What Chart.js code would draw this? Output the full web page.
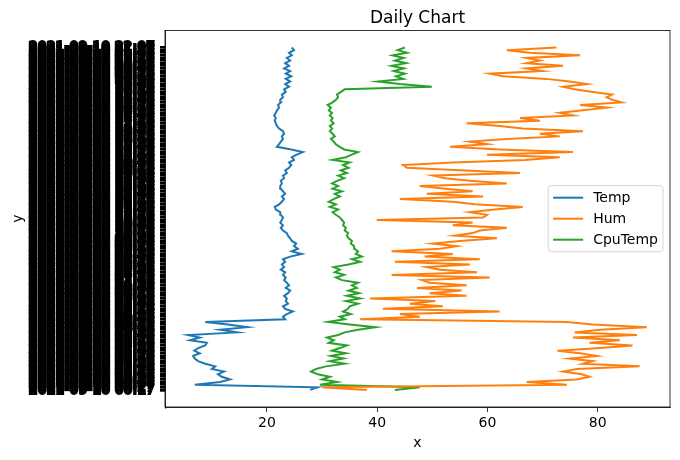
<!DOCTYPE html>
<html>
<head>
<meta charset="utf-8">
<script src="https://cdn.jsdelivr.net/npm/chart.js@4.4.0/dist/chart.umd.min.js"></script>
<style>
  body { margin: 0; background: #fff; }
  #wrap { width: 680px; height: 460px; }
</style>
</head>
<body>
<div id="wrap"><canvas id="dailyChart" width="680" height="460"></canvas></div>
<script>
// readings, oldest first (bottom of the chart)
const temp = [
  27.8, 29.2, 6.9, 11.5, 13.3, 11.8, 11.1, 12.2, 10.0, 10.6,
  8.8, 7.5, 6.9, 6.6, 7.8, 6.8, 7.5, 8.8, 9.1, 6.0,
  7.8, 5.7, 14.6, 11.5, 16.4, 12.9, 8.8, 23.3, 22.9, 23.6,
  24.7, 23.3, 22.9, 23.8, 23.4, 23.6, 23.1, 23.8, 24.2, 23.4,
  24.0, 23.6, 23.1, 23.4, 22.9, 23.3, 22.5, 23.1, 22.7, 23.3,
  22.9, 24.2, 26.3, 24.5, 25.6, 24.9, 25.3, 24.5, 24.2, 23.8,
  23.6, 22.9, 22.5, 22.9, 22.4, 22.7, 22.9, 22.5, 22.4, 21.6,
  21.4, 22.2, 22.7, 23.1, 22.7, 23.3, 22.9, 22.5, 22.4, 22.7,
  22.5, 23.1, 22.9, 23.6, 23.3, 24.0, 24.4, 24.0, 24.9, 24.5,
  25.4, 26.5, 24.4, 21.8, 22.2, 22.5, 22.9, 22.7, 23.1, 22.9,
  22.2, 21.8, 21.6, 21.4, 21.6, 21.3, 21.6, 21.8, 22.2, 22.0,
  22.5, 22.4, 22.9, 22.7, 23.4, 23.1, 24.0, 23.3, 24.2, 23.4,
  24.4, 23.4, 24.2, 23.1, 24.0, 23.3, 24.2, 23.6, 24.5, 24.0, 24.9, 24.5
];
const hum = [
  38.1, 30.0, 74.4, 67.1, 76.2, 78.5, 77.1, 73.7, 76.2, 87.6,
  77.3, 79.1, 74.9, 79.8, 76.8, 72.7, 80.4, 86.3, 78.5, 84.0,
  75.5, 87.1, 75.8, 80.4, 88.9, 79.1, 74.4, 36.9, 47.7, 44.1,
  62.2, 41.0, 51.9, 45.9, 50.5, 38.7, 56.2, 49.5, 55.3, 47.2,
  56.2, 49.5, 48.1, 60.4, 42.6, 58.1, 51.4, 49.0, 56.8, 43.2,
  58.6, 48.6, 53.7, 42.6, 51.4, 54.4, 50.1, 55.0, 61.7, 54.1,
  57.3, 58.6, 63.5, 53.7, 57.3, 39.9, 59.2, 59.9, 56.8, 61.3,
  66.4, 57.7, 53.7, 44.1, 59.2, 49.0, 57.3, 52.3, 47.7, 63.5,
  56.8, 52.3, 50.1, 65.9, 55.0, 45.4, 44.7, 53.7, 66.8, 73.1,
  59.9, 75.5, 62.2, 53.2, 59.9, 56.8, 63.5, 73.1, 69.5, 77.3,
  66.4, 62.2, 56.2, 69.5, 65.9, 75.5, 73.1, 77.3, 81.6, 76.8,
  84.3, 82.6, 81.6, 82.6, 79.1, 75.8, 73.7, 78.0, 74.9, 70.7,
  62.8, 60.4, 70.0, 67.1, 73.7, 67.1, 69.5, 67.1, 76.8, 67.7, 63.5, 72.5
];
const cpuTemp = [
  43.2, 47.7, 29.6, 32.7, 30.0, 31.4, 29.2, 28.0, 28.9, 30.7,
  34.1, 31.4, 33.9, 31.6, 34.3, 31.8, 33.2, 34.5, 31.2, 32.1,
  30.9, 32.9, 34.1, 36.5, 39.7, 35.0, 31.1, 34.1, 33.2, 35.2,
  33.8, 34.7, 35.0, 36.5, 34.3, 36.9, 34.5, 36.7, 34.8, 36.3,
  35.4, 36.5, 33.6, 32.5, 34.0, 32.3, 33.2, 32.1, 34.8, 36.9,
  35.4, 37.2, 36.1, 36.5, 35.9, 35.8, 35.2, 35.4, 34.8, 34.5,
  34.7, 34.1, 34.3, 33.8, 34.0, 33.6, 33.2, 32.5, 31.9, 32.9,
  31.4, 32.5, 31.2, 32.1, 33.2, 32.3, 33.6, 31.9, 32.9, 31.8,
  32.7, 34.0, 32.9, 34.5, 33.4, 34.8, 33.8, 35.0, 31.9, 34.3,
  35.4, 36.5, 34.0, 33.2, 32.5, 32.1, 31.6, 32.3, 31.9, 31.4,
  31.8, 31.4, 32.1, 31.6, 31.9, 31.4, 31.8, 31.2, 31.6, 31.0,
  31.9, 32.5, 32.9, 32.7, 33.4, 34.1, 49.9, 44.1, 40.1, 44.7,
  43.4, 45.0, 43.0, 44.8, 42.6, 45.2, 43.2, 44.8, 42.8, 45.4, 43.7, 45.0
];
const xTicks = [20, 40, 60, 80];

// one timestamp per reading, every 10 minutes
const times = [];
const start = new Date(2021, 8, 10, 0, 17);
const pad = (n) => String(n).padStart(2, '0');
for (let i = 0; i < temp.length; i++) {
  const d = new Date(start.getTime() + i * 600000);
  times.push(d.getFullYear() + '-' + pad(d.getMonth() + 1) + '-' + pad(d.getDate()) + ' ' + pad(d.getHours()) + ':' + pad(d.getMinutes()));
}

const toPoints = (arr) => arr.map((v, i) => ({ x: v, y: i }));
const margin = (times.length - 1) * 0.05;

Chart.defaults.font.family = 'DejaVu Sans';
Chart.defaults.color = '#000';

// box around the plot, like the mpl spines
const frame = {
  id: 'frame',
  afterDatasetsDraw(chart) {
    const { ctx, chartArea: a } = chart;
    ctx.save();
    ctx.strokeStyle = '#000';
    ctx.lineWidth = 0.8;
    ctx.strokeRect(a.left, a.top, a.right - a.left, a.bottom - a.top);
    ctx.restore();
  }
};

// legend inside the plot, centre right
const innerLegend = {
  id: 'innerLegend',
  afterDraw(chart) {
    const { ctx, chartArea: a } = chart;
    const sets = chart.data.datasets;
    ctx.save();
    ctx.font = '14px "DejaVu Sans"';
    let textW = 0;
    sets.forEach(s => { textW = Math.max(textW, ctx.measureText(s.label).width); });
    const w = 45 + textW + 5, h = 66, row = 21;
    const right = a.right - 7;
    const left = right - w;
    const cy = (a.top + a.bottom) / 2;
    const top = cy - h / 2;
    ctx.beginPath();
    ctx.roundRect(left, top, w, h, 3);
    ctx.fillStyle = 'rgba(255,255,255,0.8)';
    ctx.fill();
    ctx.strokeStyle = '#d6d6d6';
    ctx.lineWidth = 1;
    ctx.stroke();
    sets.forEach((s, i) => {
      const y = cy + (i - 1) * row;
      ctx.strokeStyle = s.borderColor;
      ctx.lineWidth = 2;
      ctx.beginPath();
      ctx.moveTo(left + 5, y);
      ctx.lineTo(left + 35, y);
      ctx.stroke();
      ctx.fillStyle = '#000';
      ctx.textBaseline = 'middle';
      ctx.fillText(s.label, left + 45, y + 1);
    });
    ctx.restore();
  }
};

new Chart(document.getElementById('dailyChart'), {
  type: 'line',
  data: {
    datasets: [
      { label: 'Temp', data: toPoints(temp), borderColor: '#1f77b4', backgroundColor: '#1f77b4' },
      { label: 'Hum', data: toPoints(hum), borderColor: '#ff7f0e', backgroundColor: '#ff7f0e' },
      { label: 'CpuTemp', data: toPoints(cpuTemp), borderColor: '#2ca02c', backgroundColor: '#2ca02c' }
    ]
  },
  options: {
    responsive: false,
    animation: false,
    indexAxis: 'y',
    layout: { padding: { left: 0, right: 10, top: 0, bottom: 0 } },
    elements: {
      line: { borderWidth: 2, tension: 0 },
      point: { radius: 0 }
    },
    plugins: {
      legend: { display: false },
      tooltip: { enabled: false },
      title: {
        display: true,
        text: 'Daily Chart',
        fullSize: false,
        font: { size: 17, weight: 'normal' },
        padding: { top: 8, bottom: 2 }
      }
    },
    scales: {
      x: {
        type: 'linear',
        min: 1.5,
        max: 93.1,
        afterBuildTicks: (axis) => { axis.ticks = xTicks.map(v => ({ value: v })); },
        afterFit: (axis) => { axis.height = 53; },
        ticks: { font: { size: 14 }, padding: 3, color: '#000' },
        grid: { drawOnChartArea: false, drawTicks: true, tickLength: 5, color: '#000', lineWidth: 0.8 },
        border: { display: true, color: '#000', width: 0.8 },
        title: { display: true, text: 'x', font: { size: 14 }, padding: { top: 0, bottom: 8 } }
      },
      y: {
        type: 'linear',
        min: -margin,
        max: times.length - 1 + margin,
        afterBuildTicks: (axis) => { axis.ticks = times.map((t, i) => ({ value: i })); },
        afterFit: (axis) => { axis.width = 165; },
        ticks: {
          autoSkip: false,
          font: { size: 14 },
          padding: 5,
          color: '#000',
          textStrokeColor: '#000',
          textStrokeWidth: 2,
          callback: (v) => times[v]
        },
        grid: { drawOnChartArea: false, drawTicks: true, tickLength: 5, color: '#000', lineWidth: 2.7 },
        border: { display: true, color: '#000', width: 0.8 },
        title: { display: true, text: 'y', font: { size: 14 }, padding: { top: 10, bottom: 0 } }
      }
    }
  },
  plugins: [frame, innerLegend]
});
</script>
</body>
</html>
